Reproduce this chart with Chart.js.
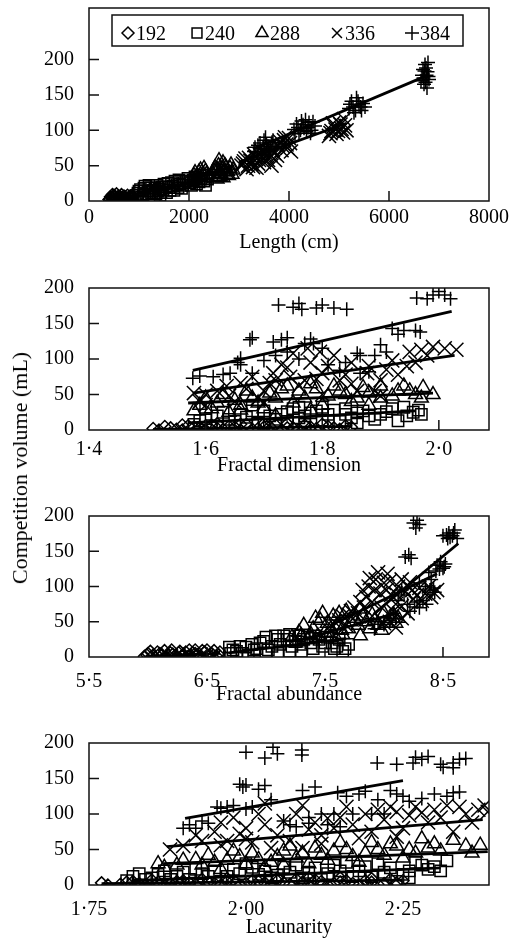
<!DOCTYPE html>
<html><head><meta charset="utf-8">
<script src="https://cdn.jsdelivr.net/npm/chart.js@4.4.1/dist/chart.umd.min.js"></script>
<style>
html,body{margin:0;padding:0;background:#fff;width:510px;height:941px;overflow:hidden;position:relative;}
canvas{position:absolute;left:0;}
#ytitle{position:absolute;left:20px;top:468px;transform:translate(-50%,-50%) rotate(-90deg);font-family:"Liberation Serif";font-size:22px;white-space:nowrap;color:#000;}
</style></head><body>
<canvas id="c1" width="510" height="277" style="top:-22px"></canvas>
<canvas id="c2" width="510" height="220" style="top:258px"></canvas>
<canvas id="c3" width="510" height="221" style="top:486px"></canvas>
<canvas id="c4" width="510" height="227" style="top:713px"></canvas>
<div id="ytitle">Competition volume (mL)</div>
<script>
// ---------- series / ticks ----------
const seriesNames = ['192','240','288','336','384'];
const yTicks = [0,50,100,150,200];

// Panel 1: Length (cm)
const lenTicks = [0,2000,4000,6000,8000];
const lenTickLabels = ['0','2000','4000','6000','8000'];
const len192 = [[400,2],[430,6],[450,0],[480,4],[500,8],[520,1],[540,5],[560,2],[590,7],[610,3],[640,0],[660,5],[690,2],[720,6],[750,1],[780,4],[820,7],[850,2],[880,5],[900,0],
  [420,3],[460,5],[490,1],[510,6],[530,3],[570,4],[600,1],[630,6],[670,3],[700,7],[740,3],[770,8],[800,2],[830,5],[860,8],[470,9],[550,10],[650,9]];
const len240 = [[950,8],[1000,14],[1050,5],[1100,18],[1150,10],[1200,22],[1250,12],[1300,6],[1320,18],[1380,14],[1420,8],[1460,20],[1500,24],[1550,12],[1600,19],[1650,26],[1700,15],[1760,23],[1800,30],[1850,18],[1900,26],[1980,32],[2050,22],[2120,34],[2200,27],[2260,37],[2330,22],[2370,31],
  [980,11],[1030,16],[1080,9],[1120,21],[1180,14],[1230,19],[1280,15],[1340,10],[1360,22],[1400,17],[1440,12],[1480,16],[1530,20],[1580,25],[1620,15],[1680,21],[1720,28],[1780,19],[1820,24],[1880,22],[1940,28],[2020,26],[2080,30],[2150,24],[2230,31],[2300,28],[2350,36]];
const len288 = [[2050,26],[2100,36],[2150,29],[2200,41],[2250,31],[2300,46],[2350,38],[2500,43],[2540,33],[2590,50],[2630,39],[2680,54],[2700,41],[2740,47],[2790,36],[2840,51],[2600,57],[2560,31],[2880,44],
  [2080,30],[2120,40],[2180,34],[2230,44],[2280,38],[2330,42],[2480,38],[2520,47],[2570,44],[2620,35],[2660,46],[2720,50],[2770,42],[2820,46],[2860,38],[2610,42],[2680,33],[2750,37]];
const len336 = [[3050,50],[3100,56],[3150,45],[3200,61],[3250,52],[3300,66],[3350,47],[3400,58],[3450,71],[3500,55],[3550,63],[3600,76],[3650,50],[3700,68],[3780,79],[3850,72],[3900,86],[3950,80],[4000,89],[4040,70],[4800,92],[4850,99],[4900,106],[4950,95],[5000,111],[5050,102],[5100,116],[5150,100],
  [3080,53],[3130,60],[3180,50],[3230,57],[3280,48],[3320,62],[3380,53],[3420,65],[3480,60],[3530,68],[3580,58],[3630,65],[3680,72],[3720,58],[3760,64],[3820,84],[3870,78],[3920,90],[3970,75],[4020,82],[4830,96],[4880,110],[4930,101],[4980,99],[5030,108],[5080,97],[5120,107]];
const len384 = [[3300,70],[3380,79],[3450,65],[3500,86],[3550,80],[3600,72],[3660,83],[3720,77],[4100,101],[4150,109],[4200,96],[4250,113],[4300,103],[4350,98],[4400,111],[4450,100],[4520,106],[5200,131],[5250,141],[5300,125],[5350,146],[5400,136],[5450,128],[5520,133],[6640,170],[6680,186],[6700,165],[6720,193],[6750,178],[6780,196],[6800,172],[6760,160],
  [3320,76],[3360,68],[3420,82],[3480,74],[3530,90],[3580,77],[3630,75],[3680,86],[4120,95],[4180,104],[4230,100],[4280,108],[4330,115],[4380,104],[4430,96],[4480,112],[5220,137],[5280,133],[5330,128],[5380,141],[5430,133],[5480,138],[6660,178],[6690,174],[6710,184],[6730,168],[6740,188],[6770,183],[6790,176]];
const lenFit192 = [[380,0],[900,6]];
const lenFit240 = [[900,9],[2380,32]];
const lenFit288 = [[2040,30],[2900,50]];
const lenFit336 = [[3000,55],[5150,110]];
const lenFit384 = [[3300,74],[6780,178]];

// Panel 2: Fractal dimension
const fdTicks = [1.4,1.6,1.8,2.0];
const fdTickLabels = ['1\u00B74','1\u00B76','1\u00B78','2\u00B70'];
const fd192 = [[1.51,2],[1.53,5],[1.55,1],[1.57,6],[1.59,3],[1.61,7],[1.63,1],[1.65,4],[1.67,8],[1.69,2],[1.71,5],[1.73,0],[1.75,3],[1.77,7],[1.79,2],[1.81,5],[1.83,1],[1.85,4],[1.6,0],[1.7,9],[1.78,0],[1.66,0],
  [1.52,0],[1.54,3],[1.56,7],[1.58,4],[1.60,6],[1.62,2],[1.64,5],[1.66,8],[1.68,1],[1.70,4],[1.72,7],[1.74,3],[1.76,1],[1.78,4],[1.80,8],[1.82,3],[1.84,6],[1.62,9],[1.74,9],[1.56,0]];
const fd240 = [[1.58,8],[1.59,13],[1.62,20],[1.65,12],[1.67,18],[1.68,27],[1.70,27],[1.72,15],[1.73,22],[1.75,30],[1.76,17],[1.78,24],[1.79,27],[1.81,22],[1.83,12],[1.85,17],[1.87,27],[1.88,20],[1.90,22],[1.92,30],[1.93,13],[1.945,20],[1.956,25],[1.965,28],[1.80,32],[1.70,8],
  [1.6,16],[1.61,6],[1.63,25],[1.64,15],[1.66,22],[1.69,10],[1.71,20],[1.74,12],[1.74,26],[1.77,8],[1.77,20],[1.8,14],[1.82,28],[1.84,22],[1.86,10],[1.86,24],[1.89,15],[1.91,26],[1.94,32],[1.97,22],[1.6,30],[1.68,35],[1.76,32],[1.84,30]];
const fd288 = [[1.58,27],[1.59,35],[1.62,38],[1.65,42],[1.68,45],[1.71,52],[1.74,62],[1.76,55],[1.79,58],[1.82,62],[1.84,50],[1.87,60],[1.90,62],[1.93,55],[1.95,55],[1.973,60],[1.99,50],[1.70,30],[1.75,38],[1.80,35],[1.85,40],[1.90,45],[1.64,25],[1.72,20],
  [1.6,45],[1.61,30],[1.63,50],[1.66,35],[1.67,55],[1.69,38],[1.72,45],[1.73,58],[1.77,45],[1.78,65],[1.81,48],[1.83,55],[1.86,45],[1.88,52],[1.92,48],[1.94,62],[1.96,50],[1.66,28],[1.78,28],[1.88,35],[1.97,45]];
const fd336 = [[1.58,52],[1.60,50],[1.636,62],[1.66,66],[1.69,45],[1.71,66],[1.716,80],[1.745,75],[1.75,108],[1.77,70],[1.775,115],[1.796,110],[1.80,80],[1.82,105],[1.83,70],[1.86,55],[1.877,80],[1.89,55],[1.91,85],[1.945,90],[1.95,110],[1.97,113],[1.99,117],[2.01,115],[2.03,113],[1.65,40],[1.73,92],[1.85,95],
  [1.59,40],[1.62,55],[1.64,48],[1.67,58],[1.68,75],[1.7,55],[1.72,70],[1.74,88],[1.76,62],[1.78,95],[1.79,72],[1.81,90],[1.84,78],[1.85,65],[1.88,90],[1.9,70],[1.92,98],[1.93,78],[1.96,95],[1.98,105],[1.6,35],[1.7,38],[1.8,50],[1.9,48]];
const fd384 = [[1.578,73],[1.613,75],[1.642,80],[1.655,95],[1.66,101],[1.676,127],[1.68,80],[1.68,130],[1.716,124],[1.725,176],[1.73,127],[1.74,130],[1.75,173],[1.765,170],[1.77,122],[1.785,122],[1.80,176],[1.82,172],[1.83,84],[1.842,170],[1.865,105],[1.865,80],[1.89,105],[1.91,110],[1.92,143],[1.94,140],[1.962,186],[1.968,138],[1.99,190],[2.0,195],[2.02,185],
  [1.59,76],[1.63,78],[1.66,92],[1.7,98],[1.72,105],[1.74,110],[1.76,100],[1.78,128],[1.8,115],[1.81,92],[1.84,95],[1.86,108],[1.88,82],[1.9,120],[1.93,135],[1.96,140],[1.98,185],[2.01,190],[1.76,178],[1.79,172]];
const fdFit192 = [[1.51,1],[1.85,5]];
const fdFit240 = [[1.57,10],[1.96,27]];
const fdFit288 = [[1.57,38],[1.99,52]];
const fdFit336 = [[1.578,52],[2.027,105]];
const fdFit384 = [[1.578,84],[2.022,167]];

// Panel 3: Fractal abundance
const faTicks = [5.5,6.5,7.5,8.5];
const faTickLabels = ['5\u00B75','6\u00B75','7\u00B75','8\u00B75'];
const fa192 = [[5.97,1],[6.0,5],[6.04,2],[6.08,7],[6.12,3],[6.15,0],[6.19,6],[6.23,2],[6.27,8],[6.3,4],[6.34,1],[6.38,6],[6.42,3],[6.46,9],[6.5,2],[6.54,5],[6.58,1],[6.61,7],[6.25,0],[6.4,10],
  [5.99,3],[6.02,8],[6.06,0],[6.1,5],[6.14,9],[6.17,2],[6.21,4],[6.26,6],[6.29,1],[6.32,7],[6.36,3],[6.4,5],[6.44,1],[6.48,7],[6.52,3],[6.56,9],[6.6,3],[6.2,10],[6.35,10],[6.5,10]];
const fa240 = [[6.69,14],[6.75,8],[6.83,14],[6.9,10],[6.95,20],[7.0,28],[7.05,15],[7.1,25],[7.15,30],[7.2,32],[7.25,22],[7.3,18],[7.35,28],[7.4,12],[7.45,25],[7.5,20],[7.56,20],[7.6,15],[7.67,12],[7.0,5],[7.2,8],[6.85,3],
  [6.7,5],[6.72,10],[6.78,15],[6.8,5],[6.88,18],[6.92,12],[6.98,22],[7.02,10],[7.08,30],[7.12,18],[7.18,25],[7.22,15],[7.28,30],[7.32,25],[7.38,20],[7.42,30],[7.48,15],[7.52,28],[7.58,12],[7.62,25],[7.7,18],[7.65,8],[7.1,5],[7.3,8]];
const fa288 = [[7.25,20],[7.3,30],[7.35,25],[7.4,40],[7.46,52],[7.5,35],[7.57,58],[7.6,45],[7.68,65],[7.7,40],[7.75,55],[7.8,68],[7.85,50],[7.9,60],[7.95,45],[8.0,62],[8.05,55],[8.1,48],[7.55,28],[7.65,32],
  [7.22,28],[7.28,35],[7.32,45],[7.38,32],[7.42,55],[7.44,30],[7.48,62],[7.52,48],[7.55,40],[7.62,62],[7.64,38],[7.72,50],[7.78,45],[7.82,58],[7.88,40],[7.92,52],[7.98,38],[8.02,48],[8.08,60],[8.12,55],[7.6,25],[7.8,30]];
const fa336 = [[7.55,45],[7.62,52],[7.7,60],[7.75,70],[7.8,78],[7.85,85],[7.88,112],[7.92,95],[7.95,120],[8.0,105],[8.03,118],[8.06,88],[8.1,75],[8.12,100],[8.18,92],[8.22,106],[8.25,82],[8.3,98],[8.35,90],[8.4,85],[8.45,95],[8.0,48],[8.1,42],[7.9,58],[8.2,62],
  [7.58,50],[7.65,58],[7.68,45],[7.72,65],[7.78,62],[7.82,95],[7.83,70],[7.87,100],[7.9,78],[7.93,110],[7.97,90],[7.98,70],[8.02,95],[8.05,108],[8.08,65],[8.1,90],[8.15,110],[8.15,72],[8.2,100],[8.24,95],[8.28,88],[8.32,80],[8.38,100],[8.42,92],[8.05,50],[8.15,55]];
const fa384 = [[7.92,40],[8.0,46],[8.1,55],[8.15,95],[8.18,142],[8.2,75],[8.23,140],[8.26,71],[8.27,183],[8.28,194],[8.3,70],[8.3,188],[8.36,75],[8.39,95],[8.42,98],[8.45,130],[8.47,125],[8.5,126],[8.52,132],[8.53,173],[8.56,170],[8.59,176],[8.62,168],[8.5,172],
  [7.95,50],[8.05,52],[8.08,62],[8.12,80],[8.17,88],[8.21,145],[8.22,65],[8.25,190],[8.28,78],[8.33,80],[8.35,100],[8.38,120],[8.4,110],[8.44,122],[8.48,135],[8.51,128],[8.55,176],[8.58,172],[8.6,180],[8.54,168],[8.43,92],[8.3,105]];
const faFit192 = [[5.97,0],[6.61,5]];
const faFit240 = [[6.68,6],[7.68,26]];
const faFit288 = [[7.25,22],[8.1,62]];
const faFit336 = [[7.55,45],[8.45,118]];
const faFit384 = [[7.92,62],[8.63,161]];

// Panel 4: Lacunarity
const lacTicks = [1.75,2.0,2.25];
const lacTickLabels = ['1\u00B775','2\u00B700','2\u00B725'];
const lac192 = [[1.77,3],[1.8,1],[1.82,5],[1.84,0],[1.86,4],[1.88,2],[1.9,6],[1.92,1],[1.94,4],[1.96,0],[1.98,7],[2.0,2],[2.02,5],[2.04,0],[2.06,3],[2.08,8],[2.1,1],[2.12,5],[2.14,2],[2.16,6],[2.18,0],[2.2,4],[2.22,2],[2.25,6],[1.97,9],[2.05,10],
  [1.78,0],[1.81,4],[1.83,2],[1.85,7],[1.87,0],[1.89,5],[1.91,3],[1.93,8],[1.95,2],[1.97,5],[1.99,0],[2.01,6],[2.03,3],[2.05,6],[2.07,1],[2.09,4],[2.11,7],[2.13,0],[2.15,4],[2.17,2],[2.19,6],[2.21,1],[2.23,8],[2.24,3],[2.1,10],[2.15,10],[2.2,9]];
const lac240 = [[1.82,12],[1.84,8],[1.86,15],[1.88,8],[1.9,18],[1.94,12],[1.96,5],[1.98,22],[2.02,15],[2.04,10],[2.06,25],[2.1,18],[2.12,8],[2.14,28],[2.18,20],[2.2,12],[2.21,30],[2.24,5],[2.25,15],[2.28,28],[2.29,22],[2.31,20],[2.0,30],[2.16,32],
  [1.81,6],[1.83,16],[1.85,10],[1.87,20],[1.89,12],[1.91,8],[1.92,22],[1.93,16],[1.95,20],[1.97,12],[1.99,16],[2.01,25],[2.03,20],[2.05,14],[2.07,18],[2.08,28],[2.09,10],[2.11,24],[2.13,16],[2.15,20],[2.17,12],[2.19,26],[2.22,18],[2.23,24],[2.26,20],[2.27,32],[2.3,26],[2.32,34],[2.26,10]];
const lac288 = [[1.86,30],[1.89,28],[1.92,36],[1.95,32],[1.99,40],[2.02,36],[2.05,40],[2.09,45],[2.12,42],[2.16,50],[2.19,45],[2.23,58],[2.26,50],[2.3,58],[2.33,63],[2.373,56],[1.96,22],[2.03,25],[2.1,30],[2.18,32],[2.25,38],[2.07,55],[2.2,60],
  [1.87,25],[1.9,35],[1.93,28],[1.94,42],[1.97,35],[1.98,48],[2.0,30],[2.01,45],[2.04,32],[2.06,48],[2.08,38],[2.11,52],[2.13,35],[2.14,48],[2.17,40],[2.21,50],[2.22,42],[2.24,55],[2.27,45],[2.29,52],[2.31,48],[2.35,55],[2.36,45],[2.28,65],[2.15,60],[2.06,28]];
const lac336 = [[1.879,50],[1.93,62],[1.96,56],[1.96,88],[1.99,72],[2.03,85],[2.03,115],[2.04,52],[2.09,112],[2.09,52],[2.1,78],[2.13,94],[2.16,110],[2.18,66],[2.21,106],[2.24,103],[2.25,80],[2.27,110],[2.29,88],[2.3,106],[2.33,75],[2.34,110],[2.37,106],[2.385,103],[2.0,65],
  [1.9,55],[1.92,70],[1.95,75],[1.97,62],[1.98,95],[2.0,80],[2.01,60],[2.02,100],[2.05,70],[2.06,90],[2.07,62],[2.08,100],[2.11,88],[2.12,70],[2.14,80],[2.15,95],[2.17,85],[2.19,100],[2.2,75],[2.22,92],[2.23,110],[2.26,98],[2.28,102],[2.31,95],[2.32,112],[2.35,100],[2.36,88],[2.38,112],[2.12,58],[2.24,68]];
const lac384 = [[1.90,80],[1.92,80],[1.94,87],[1.954,110],[1.97,110],[1.995,138],[2.0,141],[2.0,107],[2.0,187],[2.03,140],[2.03,179],[2.043,194],[2.08,82],[2.089,190],[2.089,183],[2.09,133],[2.1,87],[2.12,100],[2.14,100],[2.146,130],[2.15,82],[2.17,100],[2.18,128],[2.2,100],[2.209,172],[2.23,133],[2.24,170],[2.25,125],[2.266,172],[2.28,177],[2.28,122],[2.29,181],[2.314,166],[2.32,125],[2.33,172],[2.34,131],[2.34,177],
  [1.91,85],[1.93,90],[1.96,108],[1.98,112],[1.99,142],[2.01,110],[2.02,135],[2.04,120],[2.05,185],[2.06,90],[2.07,85],[2.1,95],[2.11,138],[2.13,85],[2.16,125],[2.19,132],[2.21,120],[2.22,100],[2.24,128],[2.26,118],[2.27,180],[2.3,128],[2.31,170],[2.33,130],[2.35,178],[2.33,165]];
const lacFit192 = [[1.77,2],[2.25,7]];
const lacFit240 = [[1.82,6],[2.31,24]];
const lacFit288 = [[1.868,30],[2.385,47]];
const lacFit336 = [[1.874,54],[2.377,92]];
const lacFit384 = [[1.903,94],[2.25,147]];

// ---------- styling ----------
const FONT = 'Liberation Serif';
const pointStyles = ['rectRot','rect','triangle','crossRot','cross'];
const pointRadii = [6,8,8,10,7];

const toXY = a => a.map(p => ({x:p[0], y:p[1]}));

const framePlugin = {
  id:'frame',
  afterDraw(chart){
    const {ctx, chartArea:a, scales:{x,y}} = chart;
    ctx.save();
    ctx.strokeStyle = '#111'; ctx.lineWidth = 1.5;
    ctx.strokeRect(a.left, a.top, a.right-a.left, a.bottom-a.top);
    ctx.beginPath();
    x.ticks.forEach(t => { const p = x.getPixelForValue(t.value); if (p > a.left+2 && p < a.right-2) { ctx.moveTo(p, a.bottom); ctx.lineTo(p, a.bottom-10); } });
    y.ticks.forEach(t => { const p = y.getPixelForValue(t.value); if (p > a.top+2 && p < a.bottom-2) { ctx.moveTo(a.left, p); ctx.lineTo(a.left+10, p); } });
    ctx.stroke();
    ctx.restore();
  }
};

const legendPlugin = {
  id:'boxLegend',
  afterDraw(chart, args, opts){
    if (!opts || !opts.show) return;
    const {ctx, chartArea:a} = chart;
    const bx = a.left + 23, by = a.top + 7, bw = 351, bh = 31;
    ctx.save();
    ctx.fillStyle = '#fff';
    ctx.fillRect(bx, by, bw, bh);
    ctx.strokeStyle = '#111'; ctx.lineWidth = 1.5;
    ctx.strokeRect(bx, by, bw, bh);
    const offs = [16, 85, 150, 225, 300];
    const pts = chart.data.datasets.filter(d => d.isPoints);
    pts.forEach((d, i) => {
      const mx = bx + offs[i], my = by + 18;
      ctx.strokeStyle = '#000'; ctx.fillStyle = 'rgba(0,0,0,0)'; ctx.lineWidth = 1.5;
      const r = Math.min(d.pointRadius, 7);
      Chart.helpers.drawPoint(ctx, {pointStyle:d.pointStyle, radius:r, borderWidth:1.5, rotation:0}, mx, my);
      ctx.fillStyle = '#000';
      ctx.font = '20px "' + FONT + '"';
      ctx.textBaseline = 'alphabetic'; ctx.textAlign = 'left';
      ctx.fillText(d.label, mx + 8, by + 24.5);
    });
    ctx.restore();
  }
};

function makePanel(id, cfg){
  const datasets = [];
  cfg.points.forEach((arr, i) => {
    datasets.push({
      label: seriesNames[i], isPoints: true, data: toXY(arr),
      pointStyle: pointStyles[i], pointRadius: pointRadii[i], pointHoverRadius: pointRadii[i],
      borderColor: '#000', backgroundColor: 'rgba(0,0,0,0)', pointBorderWidth: 1.5, showLine: false, order: 2
    });
  });
  cfg.fits.forEach((arr, i) => {
    datasets.push({
      label: seriesNames[i] + ' fit', isPoints: false, data: toXY(arr),
      showLine: true, pointRadius: 0, borderColor: '#000', borderWidth: 2.8, order: 1
    });
  });
  return new Chart(document.getElementById(id), {
    type: 'scatter',
    data: { datasets },
    options: {
      responsive: false, animation: false, devicePixelRatio: 1,
      layout: { padding: { top: 30, right: 21, bottom: 0, left: 0 } },
      plugins: { legend: { display: false }, tooltip: { enabled: false }, boxLegend: { show: !!cfg.legend } },
      scales: {
        x: {
          type: 'linear', min: cfg.xMin, max: cfg.xMax,
          grid: { display: false }, border: { display: false },
          afterBuildTicks: s => { s.ticks = cfg.xTicks.map(v => ({ value: v })); },
          afterFit: s => { s.height = cfg.xAxisHeight; },
          ticks: { color: '#000', padding: cfg.tickPad, maxRotation: 0, autoSkip: false,
            font: { family: FONT, size: 20, lineHeight: 1 },
            callback: (v, i) => cfg.xTickLabels[i] },
          title: { display: true, text: cfg.xTitle, color: '#000', padding: { top: 0, bottom: 0 },
            font: { family: FONT, size: 20, lineHeight: 1.2 } }
        },
        y: {
          type: 'linear', min: 0, max: cfg.yMax,
          grid: { display: false }, border: { display: false },
          afterBuildTicks: s => { s.ticks = yTicks.map(v => ({ value: v })); },
          afterFit: s => { s.width = 89; },
          ticks: { color: '#000', padding: 7, font: { family: FONT, size: 20 },
            callback: v => String(v) }
        }
      }
    },
    plugins: [framePlugin, legendPlugin]
  });
}

makePanel('c1', { points:[len192,len240,len288,len336,len384], fits:[lenFit192,lenFit240,lenFit288,lenFit336,lenFit384],
  xMin:0, xMax:8000, yMax:273, xTicks:lenTicks, xTickLabels:lenTickLabels, xTitle:'Length (cm)', xAxisHeight:54, tickPad:-1, legend:true });
makePanel('c2', { points:[fd192,fd240,fd288,fd336,fd384], fits:[fdFit192,fdFit240,fdFit288,fdFit336,fdFit384],
  xMin:1.4, xMax:2.086, yMax:200, xTicks:fdTicks, xTickLabels:fdTickLabels, xTitle:'Fractal dimension', xAxisHeight:48, tickPad:2 });
makePanel('c3', { points:[fa192,fa240,fa288,fa336,fa384], fits:[faFit192,faFit240,faFit288,faFit336,faFit384],
  xMin:5.5, xMax:8.89, yMax:200, xTicks:faTicks, xTickLabels:faTickLabels, xTitle:'Fractal abundance', xAxisHeight:50, tickPad:7 });
makePanel('c4', { points:[lac192,lac240,lac288,lac336,lac384], fits:[lacFit192,lacFit240,lacFit288,lacFit336,lacFit384],
  xMin:1.75, xMax:2.387, yMax:200, xTicks:lacTicks, xTickLabels:lacTickLabels, xTitle:'Lacunarity', xAxisHeight:55, tickPad:7 });
</script>
</body></html>
